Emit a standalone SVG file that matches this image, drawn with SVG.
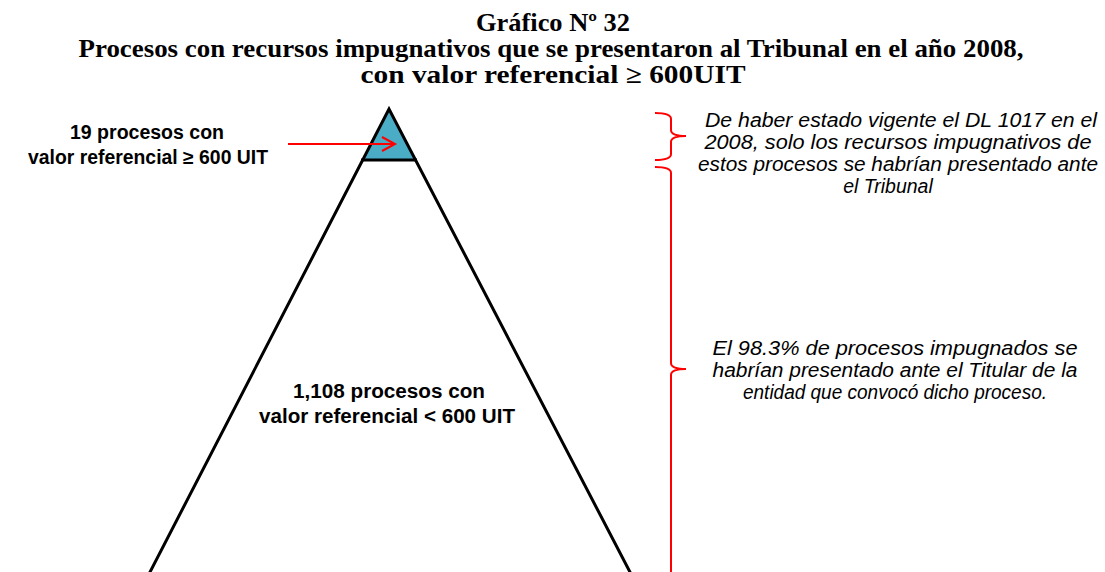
<svg xmlns="http://www.w3.org/2000/svg" width="1105" height="572" viewBox="0 0 1105 572">
<style>
.title{font-family:"Liberation Serif","Times New Roman",serif;font-weight:bold;font-size:25px;fill:#000;text-anchor:middle}
.lbl{font-family:"Liberation Sans",Arial,sans-serif;font-weight:bold;font-size:19.5px;fill:#000;text-anchor:middle}
.note{font-family:"Liberation Sans",Arial,sans-serif;font-style:italic;font-size:19.5px;fill:#000;text-anchor:middle}
.red{fill:none;stroke:#FF0000;stroke-width:2}
.edge{fill:none;stroke:#000;stroke-width:3}
</style>
<rect width="1105" height="572" fill="#fff"/>
<g id="title">
<text class="title" x="553" y="31" textLength="154" lengthAdjust="spacingAndGlyphs">Gráfico Nº 32</text>
<text class="title" x="551" y="57" textLength="945" lengthAdjust="spacingAndGlyphs">Procesos con recursos impugnativos que se presentaron al Tribunal en el año 2008,</text>
<text class="title" x="553" y="83" textLength="385" lengthAdjust="spacingAndGlyphs">con valor referencial ≥ 600UIT</text>
</g>
<g id="pyramid">
<polygon points="389,110 362.6,160 415.5,160" fill="#4BACC6"/>
<polyline class="edge" points="149,574 389,109 631,574"/>
<line class="edge" x1="361" y1="160" x2="417" y2="160"/>
</g>
<g id="node-top">
<text class="lbl" x="147" y="139" textLength="154" lengthAdjust="spacingAndGlyphs">19 procesos con</text>
<text class="lbl" x="148" y="164" textLength="240" lengthAdjust="spacingAndGlyphs">valor referencial ≥ 600 UIT</text>
</g>
<g id="node-bottom">
<text class="lbl" x="389" y="398" textLength="192" lengthAdjust="spacingAndGlyphs">1,108 procesos con</text>
<text class="lbl" x="387" y="423" textLength="256" lengthAdjust="spacingAndGlyphs">valor referencial &lt; 600 UIT</text>
</g>
<g id="note-top">
<text class="note" x="901" y="127" textLength="392" lengthAdjust="spacingAndGlyphs">De haber estado vigente el DL 1017 en el</text>
<text class="note" x="898" y="149" textLength="387" lengthAdjust="spacingAndGlyphs">2008, solo  los recursos impugnativos de</text>
<text class="note" x="898" y="171" textLength="400" lengthAdjust="spacingAndGlyphs">estos procesos se habrían presentado ante</text>
<text class="note" x="888" y="193">el Tribunal</text>
</g>
<g id="note-bottom">
<text class="note" x="895" y="355" textLength="365" lengthAdjust="spacingAndGlyphs">El 98.3% de procesos  impugnados se</text>
<text class="note" x="895" y="377" textLength="365" lengthAdjust="spacingAndGlyphs">habrían presentado ante el Titular de la</text>
<text class="note" x="895" y="399" textLength="304" lengthAdjust="spacingAndGlyphs">entidad que convocó dicho proceso.</text>
</g>
<g id="connectors">
<line class="red" x1="288" y1="144" x2="395" y2="144" stroke-width="1.5"/>
<polyline class="red" points="382,137 395,144 382,151" stroke-width="1.5"/>
<path class="red" d="M655,113 Q671,113 671,119 L671,130 Q671,136 686,136 Q671,136 671,142 L671,154 Q671,160 655,160"/>
<path class="red" d="M655,167 Q671,167 671,173 L671,363 Q671,369 686,369 Q671,369 671,375 L671,575"/>
</g>
</svg>
